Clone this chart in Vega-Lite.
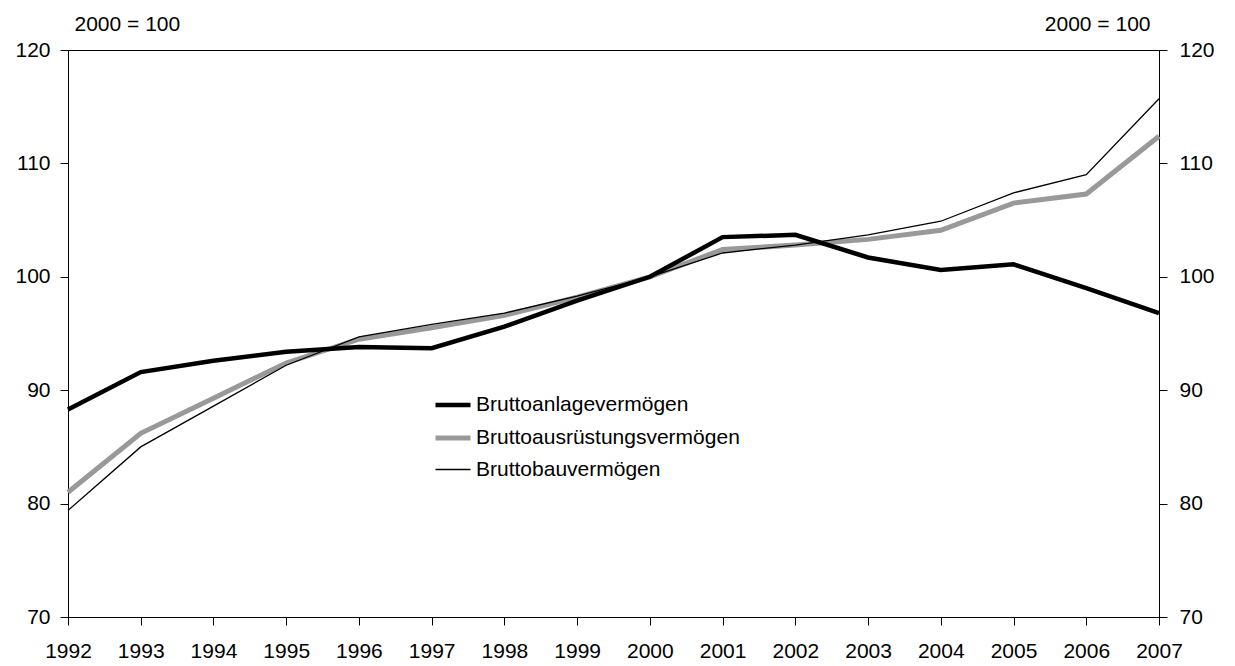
{
  "$schema": "https://vega.github.io/schema/vega-lite/v6.json",
  "width": 1091,
  "height": 567,
  "autosize": "none",
  "padding": {"left": 68, "top": 50, "right": 76, "bottom": 49},
  "background": "white",
  "config": {
    "font": "Liberation Sans",
    "view": {"stroke": "black", "strokeWidth": 1},
    "axis": {
      "labelFont": "Liberation Sans",
      "labelFontSize": 21,
      "labelColor": "black",
      "domainColor": "black",
      "tickColor": "black",
      "tickSize": 8,
      "grid": false,
      "titleFont": "Liberation Sans",
      "titleFontSize": 21,
      "titleFontWeight": "normal",
      "titleColor": "black"
    }
  },
  "data": {
    "values": [
      {"year": 1992, "series": "Bruttoausrüstungsvermögen", "value": 81.0},
      {"year": 1993, "series": "Bruttoausrüstungsvermögen", "value": 86.2},
      {"year": 1994, "series": "Bruttoausrüstungsvermögen", "value": 89.3},
      {"year": 1995, "series": "Bruttoausrüstungsvermögen", "value": 92.4},
      {"year": 1996, "series": "Bruttoausrüstungsvermögen", "value": 94.5},
      {"year": 1997, "series": "Bruttoausrüstungsvermögen", "value": 95.5},
      {"year": 1998, "series": "Bruttoausrüstungsvermögen", "value": 96.6},
      {"year": 1999, "series": "Bruttoausrüstungsvermögen", "value": 98.2},
      {"year": 2000, "series": "Bruttoausrüstungsvermögen", "value": 100.0},
      {"year": 2001, "series": "Bruttoausrüstungsvermögen", "value": 102.4},
      {"year": 2002, "series": "Bruttoausrüstungsvermögen", "value": 102.8},
      {"year": 2003, "series": "Bruttoausrüstungsvermögen", "value": 103.3},
      {"year": 2004, "series": "Bruttoausrüstungsvermögen", "value": 104.1},
      {"year": 2005, "series": "Bruttoausrüstungsvermögen", "value": 106.5},
      {"year": 2006, "series": "Bruttoausrüstungsvermögen", "value": 107.3},
      {"year": 2007, "series": "Bruttoausrüstungsvermögen", "value": 112.4},
      {"year": 1992, "series": "Bruttoanlagevermögen", "value": 88.3},
      {"year": 1993, "series": "Bruttoanlagevermögen", "value": 91.6},
      {"year": 1994, "series": "Bruttoanlagevermögen", "value": 92.6},
      {"year": 1995, "series": "Bruttoanlagevermögen", "value": 93.4},
      {"year": 1996, "series": "Bruttoanlagevermögen", "value": 93.8},
      {"year": 1997, "series": "Bruttoanlagevermögen", "value": 93.7},
      {"year": 1998, "series": "Bruttoanlagevermögen", "value": 95.6},
      {"year": 1999, "series": "Bruttoanlagevermögen", "value": 97.9},
      {"year": 2000, "series": "Bruttoanlagevermögen", "value": 100.0},
      {"year": 2001, "series": "Bruttoanlagevermögen", "value": 103.5},
      {"year": 2002, "series": "Bruttoanlagevermögen", "value": 103.7},
      {"year": 2003, "series": "Bruttoanlagevermögen", "value": 101.7},
      {"year": 2004, "series": "Bruttoanlagevermögen", "value": 100.6},
      {"year": 2005, "series": "Bruttoanlagevermögen", "value": 101.1},
      {"year": 2006, "series": "Bruttoanlagevermögen", "value": 99.0},
      {"year": 2007, "series": "Bruttoanlagevermögen", "value": 96.8},
      {"year": 1992, "series": "Bruttobauvermögen", "value": 79.4},
      {"year": 1993, "series": "Bruttobauvermögen", "value": 85.0},
      {"year": 1994, "series": "Bruttobauvermögen", "value": 88.6},
      {"year": 1995, "series": "Bruttobauvermögen", "value": 92.2},
      {"year": 1996, "series": "Bruttobauvermögen", "value": 94.7},
      {"year": 1997, "series": "Bruttobauvermögen", "value": 95.8},
      {"year": 1998, "series": "Bruttobauvermögen", "value": 96.8},
      {"year": 1999, "series": "Bruttobauvermögen", "value": 98.3},
      {"year": 2000, "series": "Bruttobauvermögen", "value": 100.0},
      {"year": 2001, "series": "Bruttobauvermögen", "value": 102.1},
      {"year": 2002, "series": "Bruttobauvermögen", "value": 102.8},
      {"year": 2003, "series": "Bruttobauvermögen", "value": 103.7},
      {"year": 2004, "series": "Bruttobauvermögen", "value": 104.9},
      {"year": 2005, "series": "Bruttobauvermögen", "value": 107.4},
      {"year": 2006, "series": "Bruttobauvermögen", "value": 109.0},
      {"year": 2007, "series": "Bruttobauvermögen", "value": 115.7}
    ]
  },
  "encoding": {
    "x": {
      "field": "year",
      "type": "quantitative",
      "scale": {"domain": [1992, 2007], "nice": false, "zero": false},
      "axis": {
        "title": null,
        "values": [1992, 1993, 1994, 1995, 1996, 1997, 1998, 1999, 2000, 2001, 2002, 2003, 2004, 2005, 2006, 2007],
        "format": "d",
        "labelPadding": 15,
        "labelFlush": false,
        "labelOverlap": false
      }
    }
  },
  "layer": [
    {
      "mark": {"type": "line", "strokeCap": "butt", "strokeJoin": "miter"},
      "encoding": {
        "y": {
          "field": "value",
          "type": "quantitative",
          "scale": {"domain": [70, 120], "nice": false, "zero": false},
          "axis": {
            "orient": "left",
            "values": [70, 80, 90, 100, 110, 120],
            "labelPadding": 10,
            "title": "2000 = 100",
            "titleAngle": 0,
            "titleAlign": "left",
            "titleBaseline": "alphabetic",
            "titleX": 6,
            "titleY": -20
          }
        },
        "color": {
          "field": "series",
          "type": "nominal",
          "scale": {
            "domain": ["Bruttoanlagevermögen", "Bruttoausrüstungsvermögen", "Bruttobauvermögen"],
            "range": ["#000000", "#999999", "#000000"]
          },
          "legend": {
            "title": null,
            "orient": "none",
            "legendX": 365,
            "legendY": 335,
            "padding": 0,
            "symbolType": "stroke",
            "symbolSize": 1225,
            "labelFontSize": 21,
            "labelFont": "Liberation Sans",
            "labelColor": "black",
            "labelOffset": 3,
            "rowPadding": 3,
            "labelLimit": 400
          }
        },
        "strokeWidth": {
          "field": "series",
          "type": "nominal",
          "scale": {
            "type": "ordinal",
            "domain": ["Bruttoanlagevermögen", "Bruttoausrüstungsvermögen", "Bruttobauvermögen"],
            "range": [4.5, 5, 1.3]
          },
          "legend": {
            "title": null,
            "orient": "none",
            "legendX": 365,
            "legendY": 335,
            "padding": 0,
            "symbolType": "stroke",
            "symbolSize": 1225,
            "labelFontSize": 21,
            "labelFont": "Liberation Sans",
            "labelColor": "black",
            "labelOffset": 3,
            "rowPadding": 3,
            "labelLimit": 400
          }
        }
      }
    },
    {
      "mark": {"type": "line", "strokeOpacity": 0},
      "encoding": {
        "detail": {"field": "series", "type": "nominal"},
        "y": {
          "field": "value",
          "type": "quantitative",
          "scale": {"domain": [70, 120], "nice": false, "zero": false},
          "axis": {
            "orient": "right",
            "values": [70, 80, 90, 100, 110, 120],
            "labelPadding": 12,
            "title": "2000 = 100",
            "titleAngle": 0,
            "titleAlign": "right",
            "titleBaseline": "alphabetic",
            "titleX": -9,
            "titleY": -20
          }
        }
      }
    }
  ],
  "resolve": {"scale": {"y": "independent"}}
}
